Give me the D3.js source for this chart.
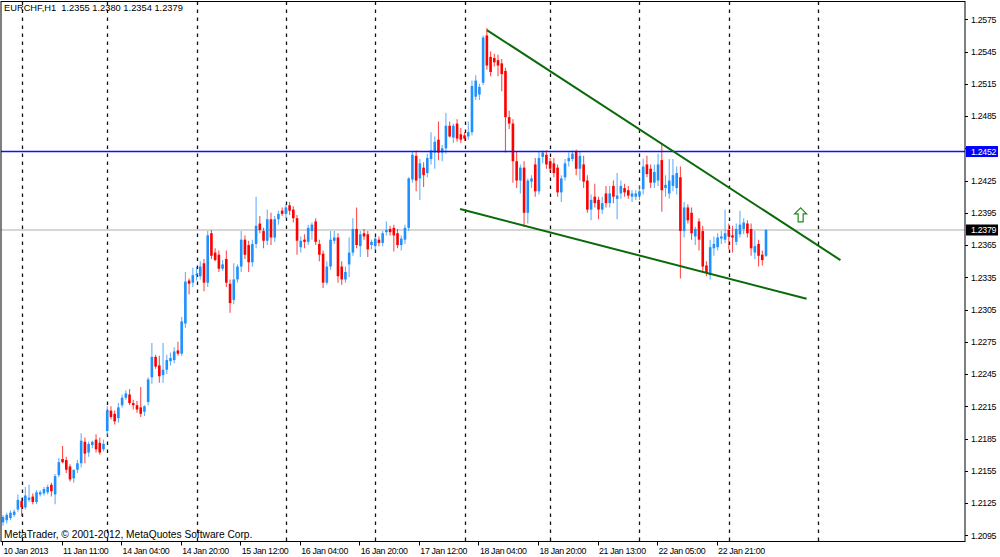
<!DOCTYPE html>
<html><head><meta charset="utf-8">
<script src="https://cdn.jsdelivr.net/npm/d3@7"></script>
<style>html,body{margin:0;padding:0;background:#fff;} svg{display:block;font-family:"Liberation Sans",Arial,sans-serif;}</style>
</head><body>
<svg id="c" width="1000" height="557"></svg>
<script>
const symbol = "EURCHF,H1";
const lastOHLC = ["1.2355", "1.2380", "1.2354", "1.2379"];
const copyright = "MetaTrader, © 2001-2012, MetaQuotes Software Corp.";

const opens = [
1.2107,1.2109,1.2111,1.2114,1.2119,1.2127,1.2121,1.2128,1.2131,1.2126,
1.2133,1.2134,1.2135,1.2142,1.2133,1.2151,1.2166,1.2165,1.2159,1.2148,
1.2156,1.2162,1.2182,1.2172,1.2179,1.2184,1.2181,1.2175,1.2192,1.2211,
1.2208,1.2204,1.2216,1.2223,1.2226,1.2218,1.2216,1.2214,1.2210,1.2219,
1.2242,1.2261,1.2253,1.2244,1.2249,1.2257,1.2258,1.2267,1.2264,1.2292,
1.2332,1.2330,1.2337,1.2336,1.2348,1.2330,1.2376,1.2358,1.2356,1.2343,
1.2352,1.2329,1.2314,1.2333,1.2345,1.2370,1.2365,1.2349,1.2366,1.2385,
1.2378,1.2369,1.2389,1.2372,1.2389,1.2397,1.2394,1.2402,1.2398,1.2390,
1.2363,1.2370,1.2368,1.2378,1.2387,1.2366,1.2357,1.2330,1.2345,1.2369,
1.2372,1.2345,1.2333,1.2347,1.2358,1.2380,1.2364,1.2376,1.2375,1.2365,
1.2364,1.2370,1.2367,1.2377,1.2380,1.2381,1.2376,1.2365,1.2370,1.2381,
1.2426,1.2448,1.2427,1.2437,1.2432,1.2445,1.2451,1.2463,1.2451,1.2455,
1.2476,1.2465,1.2478,1.2468,1.2467,1.2466,1.2470,1.2503,1.2505,1.2516,
1.2560,1.2540,1.2539,1.2537,1.2534,1.2527,1.2484,1.2478,1.2443,1.2425,
1.2437,1.2395,1.2424,1.2440,1.2415,1.2447,1.2449,1.2443,1.2441,1.2437,
1.2414,1.2428,1.2443,1.2445,1.2452,1.2436,1.2440,1.2425,1.2398,1.2410,
1.2407,1.2398,1.2413,1.2404,1.2420,1.2408,1.2413,1.2418,1.2416,1.2410,
1.2410,1.2411,1.2417,1.2440,1.2436,1.2423,1.2425,1.2444,1.2418,1.2413,
1.2420,1.2418,1.2428,1.2378,1.2400,1.2395,1.2373,1.2387,1.2378,1.2346,
1.2337,1.2362,1.2363,1.2371,1.2370,1.2379,1.2374,1.2368,1.2375,1.2380,
1.2385,1.2380,1.2358,1.2366,1.2356,1.2355];

const highs = [
1.2114,1.2116,1.2118,1.2119,1.2133,1.2130,1.2140,1.2142,1.2134,1.2137,
1.2137,1.2140,1.2142,1.2144,1.2152,1.2167,1.2178,1.2168,1.2161,1.2151,
1.2165,1.2190,1.2186,1.2182,1.2183,1.2189,1.2186,1.2184,1.2215,1.2215,
1.2211,1.2218,1.2226,1.2230,1.2231,1.2221,1.2220,1.2233,1.2216,1.2242,
1.2274,1.2263,1.2262,1.2274,1.2263,1.2265,1.2270,1.2275,1.2298,1.2340,
1.2334,1.2344,1.2345,1.2350,1.2352,1.2378,1.2379,1.2362,1.2360,1.2351,
1.2360,1.2333,1.2348,1.2347,1.2378,1.2374,1.2369,1.2370,1.2410,1.2392,
1.2381,1.2398,1.2395,1.2392,1.2397,1.2400,1.2403,1.2405,1.2401,1.2393,
1.2373,1.2375,1.2384,1.2386,1.2390,1.2370,1.2360,1.2350,1.2378,1.2378,
1.2376,1.2350,1.2345,1.2372,1.2390,1.2400,1.2378,1.2380,1.2378,1.2370,
1.2373,1.2373,1.2378,1.2387,1.2383,1.2384,1.2380,1.2374,1.2384,1.2428,
1.2452,1.2453,1.2445,1.2442,1.2450,1.2470,1.2466,1.2480,1.2458,1.2488,
1.2480,1.2478,1.2482,1.2474,1.2470,1.2480,1.2518,1.2523,1.2515,1.2560,
1.2567,1.2545,1.2543,1.2542,1.2538,1.2530,1.2490,1.2482,1.2452,1.2440,
1.2443,1.2427,1.2430,1.2446,1.2452,1.2453,1.2453,1.2446,1.2446,1.2440,
1.2430,1.2445,1.2451,1.2453,1.2454,1.2452,1.2448,1.2430,1.2412,1.2422,
1.2410,1.2410,1.2420,1.2420,1.2425,1.2432,1.2425,1.2422,1.2420,1.2416,
1.2416,1.2420,1.2445,1.2448,1.2440,1.2440,1.2450,1.2460,1.2430,1.2445,
1.2445,1.2438,1.2438,1.2405,1.2403,1.2400,1.2382,1.2390,1.2383,1.2350,
1.2370,1.2373,1.2376,1.2378,1.2398,1.2385,1.2383,1.2385,1.2397,1.2390,
1.2388,1.2385,1.2378,1.2370,1.2360,1.2380];

const lows = [
1.2104,1.2106,1.2109,1.2112,1.2117,1.2113,1.2119,1.2126,1.2124,1.2124,
1.2131,1.2132,1.2133,1.2131,1.2124,1.2149,1.2162,1.2153,1.2145,1.2144,
1.2153,1.2158,1.2162,1.2168,1.2176,1.2172,1.2170,1.2173,1.2187,1.2203,
1.2198,1.2200,1.2214,1.2221,1.2216,1.2212,1.2209,1.2205,1.2206,1.2216,
1.2236,1.2250,1.2237,1.2237,1.2245,1.2253,1.2255,1.2262,1.2262,1.2288,
1.2319,1.2326,1.2332,1.2333,1.2322,1.2326,1.2352,1.2350,1.2340,1.2341,
1.2326,1.2302,1.2310,1.2330,1.2340,1.2352,1.2340,1.2345,1.2362,1.2376,
1.2362,1.2365,1.2365,1.2368,1.2384,1.2392,1.2390,1.2393,1.2386,1.2356,
1.2358,1.2362,1.2365,1.2370,1.2365,1.2350,1.2325,1.2328,1.2342,1.2366,
1.2330,1.2328,1.2330,1.2335,1.2355,1.2362,1.2354,1.2370,1.2354,1.2361,
1.2360,1.2364,1.2364,1.2374,1.2374,1.2359,1.2362,1.2360,1.2366,1.2378,
1.2423,1.2415,1.2407,1.2419,1.2428,1.2440,1.2436,1.2444,1.2443,1.2450,
1.2465,1.2460,1.2461,1.2460,1.2462,1.2463,1.2467,1.2500,1.2500,1.2514,
1.2528,1.2522,1.2531,1.2522,1.2508,1.2451,1.2473,1.2423,1.2418,1.2413,
1.2382,1.2385,1.2418,1.2410,1.2412,1.2441,1.2436,1.2433,1.2428,1.2410,
1.2405,1.2425,1.2438,1.2443,1.2430,1.2425,1.2418,1.2395,1.2388,1.2400,
1.2389,1.2394,1.2400,1.2400,1.2404,1.2389,1.2408,1.2410,1.2408,1.2405,
1.2407,1.2407,1.2412,1.2428,1.2418,1.2418,1.2420,1.2396,1.2410,1.2408,
1.2415,1.2412,1.2334,1.2372,1.2385,1.2370,1.2365,1.2360,1.2340,1.2336,
1.2333,1.2355,1.2360,1.2366,1.2367,1.2361,1.2358,1.2365,1.2372,1.2375,
1.2372,1.2355,1.2352,1.2345,1.2346,1.2354];

const closes = [
1.2112,1.2114,1.2116,1.2117,1.2128,1.2121,1.2132,1.2130,1.2126,1.2135,
1.2135,1.2138,1.2140,1.2136,1.2150,1.2163,1.2163,1.2156,1.2147,1.2156,
1.2162,1.2183,1.2171,1.2180,1.2182,1.2175,1.2172,1.2180,1.2211,1.2205,
1.2201,1.2214,1.2223,1.2227,1.2218,1.2216,1.2212,1.2208,1.2215,1.2240,
1.2261,1.2252,1.2243,1.2249,1.2258,1.2260,1.2266,1.2264,1.2294,1.2331,
1.2329,1.2337,1.2338,1.2345,1.2330,1.2374,1.2355,1.2351,1.2343,1.2347,
1.2330,1.2311,1.2333,1.2345,1.2370,1.2356,1.2349,1.2366,1.2383,1.2379,
1.2369,1.2389,1.2372,1.2389,1.2394,1.2394,1.2400,1.2397,1.2390,1.2369,
1.2369,1.2368,1.2381,1.2384,1.2368,1.2356,1.2330,1.2345,1.2370,1.2372,
1.2336,1.2333,1.2340,1.2358,1.2380,1.2365,1.2375,1.2373,1.2361,1.2368,
1.2371,1.2367,1.2376,1.2379,1.2377,1.2374,1.2365,1.2371,1.2381,1.2427,
1.2449,1.2425,1.2441,1.2430,1.2446,1.2453,1.2461,1.2451,1.2455,1.2476,
1.2466,1.2476,1.2464,1.2463,1.2464,1.2470,1.2513,1.2518,1.2512,1.2558,
1.2532,1.2526,1.2535,1.2532,1.2524,1.2484,1.2478,1.2443,1.2425,1.2437,
1.2395,1.2425,1.2427,1.2415,1.2446,1.2451,1.2440,1.2436,1.2432,1.2414,
1.2427,1.2441,1.2446,1.2450,1.2436,1.2448,1.2424,1.2398,1.2407,1.2404,
1.2398,1.2404,1.2404,1.2413,1.2410,1.2411,1.2420,1.2414,1.2411,1.2413,
1.2413,1.2415,1.2438,1.2431,1.2423,1.2433,1.2440,1.2416,1.2421,1.2425,
1.2430,1.2432,1.2378,1.2400,1.2388,1.2376,1.2380,1.2370,1.2345,1.2339,
1.2363,1.2366,1.2372,1.2373,1.2376,1.2373,1.2372,1.2380,1.2384,1.2386,
1.2376,1.2362,1.2364,1.2355,1.2351,1.2379];

const priceTicks = [1.2575,1.2545,1.2515,1.2485,1.2455,1.2425,1.2395,1.2365,1.2335,
  1.2305,1.2275,1.2245,1.2215,1.2185,1.2155,1.2125,1.2095];
const timeTickBars = [0,16,32,48,64,80,96,112,128,144,160,176,192];
const timeTickLabels = ["10 Jan 2013","11 Jan 11:00","14 Jan 04:00","14 Jan 20:00","15 Jan 12:00",
  "16 Jan 04:00","16 Jan 20:00","17 Jan 12:00","18 Jan 04:00","18 Jan 20:00","21 Jan 13:00",
  "22 Jan 05:00","22 Jan 21:00"];
const daySeparatorBars = [5,28,52,76,100,124,147,171,195,219];
const horizontalLevel = 1.2452;
const bidLevel = 1.2379;
const upperTrendBars = [130, 225];
const upperTrendPrices = [1.2565, 1.2351];
const lowerTrendBars = [122.8, 215.9];
const lowerTrendPrices = [1.23985, 1.2315];
const arrowBar = 214.3;
const arrowPrice = 1.2393;

// ---------- layout ----------
const W = 1000, H = 557;
const plot = {left: 1, top: 1.5, right: 965, bottom: 541.5};
const svg = d3.select("#c");
const fmt = d3.format(".4f");

const x = d3.scaleLinear().domain([0, 258]).range([3, 3 + 3.722 * 258]);
const y = d3.scaleLinear().domain([1.2095, 1.2575]).range([535.3, 19.3]);

svg.append("rect").attr("width", W).attr("height", H).attr("fill", "#fff");

svg.append("defs").append("clipPath").attr("id", "pc")
  .append("rect").attr("x", plot.left).attr("y", plot.top)
  .attr("width", plot.right - plot.left).attr("height", plot.bottom - plot.top);

const g = svg.append("g").attr("clip-path", "url(#pc)");

// day separators (dashed grid)
g.selectAll("line.grid").data(daySeparatorBars).join("line")
  .attr("class", "grid")
  .attr("x1", d => Math.round(x(d)) + 0.5).attr("x2", d => Math.round(x(d)) + 0.5)
  .attr("y1", plot.top).attr("y2", plot.bottom)
  .attr("stroke", "#111").attr("stroke-width", 1.3).attr("stroke-dasharray", "3.5,4.5");

// bid line
g.append("line").attr("x1", plot.left).attr("x2", plot.right)
  .attr("y1", y(bidLevel)).attr("y2", y(bidLevel))
  .attr("stroke", "#c8c8c8").attr("stroke-width", 1.6);

// candles
const bars = d3.range(opens.length).map(i => ({i, o: opens[i], h: highs[i], l: lows[i], c: closes[i]}));
const bull = "#1e90ff", bear = "#ff0000";
const cg = g.append("g");
cg.selectAll("line.wick").data(bars).join("line")
  .attr("class", "wick")
  .attr("x1", d => x(d.i)).attr("x2", d => x(d.i))
  .attr("y1", d => y(d.h)).attr("y2", d => y(d.l))
  .attr("stroke", d => d.c >= d.o ? bull : bear)
  .attr("stroke-opacity", 0.7).attr("stroke-width", 1.1);
cg.selectAll("rect.body").data(bars).join("rect")
  .attr("class", "body")
  .attr("x", d => x(d.i) - 1.3).attr("width", 2.6)
  .attr("y", d => y(Math.max(d.o, d.c)))
  .attr("height", d => Math.max(1.2, Math.abs(y(d.o) - y(d.c))))
  .attr("fill", d => d.c >= d.o ? bull : bear);

// horizontal level line
g.append("line").attr("x1", plot.left).attr("x2", plot.right)
  .attr("y1", y(horizontalLevel)).attr("y2", y(horizontalLevel))
  .attr("stroke", "#1010ff").attr("stroke-width", 1.4);

// trend lines
const trendColor = "#0a6a0a";
[[upperTrendBars, upperTrendPrices], [lowerTrendBars, lowerTrendPrices]].forEach(([b, p]) => {
  g.append("line")
    .attr("x1", x(b[0])).attr("y1", y(p[0]))
    .attr("x2", x(b[1])).attr("y2", y(p[1]))
    .attr("stroke", trendColor).attr("stroke-width", 2);
});

// up arrow
const ax = x(arrowBar), ay = y(arrowPrice);
const arrowShape = [[0,-7],[6,-1],[2.5,-1],[2.5,7],[-2.5,7],[-2.5,-1],[-6,-1]];
g.append("path")
  .attr("d", d3.line()(arrowShape.map(([dx, dy]) => [ax + dx, ay + dy])) + "Z")
  .attr("fill", "#fff").attr("stroke", "#1c8a1c").attr("stroke-width", 1.2);

// frame
svg.append("rect").attr("x", plot.left).attr("y", plot.top)
  .attr("width", plot.right - plot.left).attr("height", plot.bottom - plot.top)
  .attr("fill", "none").attr("stroke", "#000").attr("stroke-width", 1);

// right price axis (labels hidden where a price-level box sits, as in the terminal)
const boxLevels = [horizontalLevel, bidLevel];
const visibleTicks = priceTicks.filter(t => boxLevels.every(b => Math.abs(y(t) - y(b)) > 9));
const pa = svg.append("g");
pa.selectAll("line").data(priceTicks).join("line")
  .attr("x1", plot.right).attr("x2", plot.right + 3)
  .attr("y1", d => Math.round(y(d)) + 0.5).attr("y2", d => Math.round(y(d)) + 0.5)
  .attr("stroke", "#000").attr("stroke-width", 1);
pa.selectAll("text").data(visibleTicks).join("text")
  .attr("x", plot.right + 6).attr("y", d => y(d) + 3.2)
  .attr("font-size", 8.8).attr("letter-spacing", -0.3).attr("fill", "#000").text(d => fmt(d));

// price label boxes
function priceBox(v, fill) {
  const yy = y(v);
  svg.append("rect").attr("x", plot.right + 1).attr("y", yy - 5.5)
    .attr("width", 32).attr("height", 11).attr("fill", fill);
  svg.append("text").attr("x", plot.right + 6).attr("y", yy + 3.2)
    .attr("font-size", 8.8).attr("letter-spacing", -0.3).attr("fill", "#fff").text(fmt(v));
}
priceBox(horizontalLevel, "#0000ff");
priceBox(bidLevel, "#000");

// bottom time axis
const ta = svg.append("g");
ta.selectAll("line").data(timeTickBars).join("line")
  .attr("x1", d => Math.round(x(d)) - 0.5).attr("x2", d => Math.round(x(d)) - 0.5)
  .attr("y1", plot.bottom).attr("y2", plot.bottom + 4)
  .attr("stroke", "#000").attr("stroke-width", 1);
ta.selectAll("text").data(timeTickBars).join("text")
  .attr("x", d => x(d) + 0.5).attr("y", 553.5)
  .attr("font-size", 8.8).attr("letter-spacing", -0.35).attr("fill", "#000")
  .text((d, k) => timeTickLabels[k]);

// header and copyright
svg.append("text").attr("x", 4).attr("y", 11).attr("font-size", 9.3).attr("fill", "#000")
  .attr("xml:space", "preserve")
  .text(symbol + "  " + lastOHLC.join(" "));
svg.append("text").attr("x", 4).attr("y", 537.5).attr("font-size", 10.2).attr("fill", "#000")
  .text(copyright);
</script>
</body></html>
